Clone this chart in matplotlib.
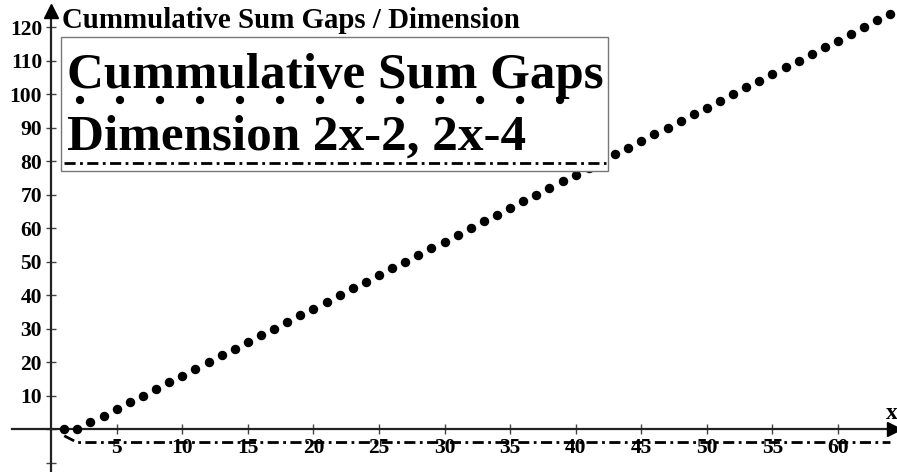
import matplotlib.pyplot as plt
from matplotlib.lines import Line2D
from matplotlib.patches import Rectangle

gap_x = list(range(1, 65))
cum_sum_gaps = [0, 0, 2, 4, 6, 8, 10, 12, 14, 16, 18, 20, 22, 24, 26, 28,
                30, 32, 34, 36, 38, 40, 42, 44, 46, 48, 50, 52, 54, 56, 58, 60,
                62, 64, 66, 68, 70, 72, 74, 76, 78, 80, 82, 84, 86, 88, 90, 92,
                94, 96, 98, 100, 102, 104, 106, 108, 110, 112, 114, 116, 118, 120, 122, 124]
dimension = [-2] + [-4] * 63

x_ticks = [5, 10, 15, 20, 25, 30, 35, 40, 45, 50, 55, 60]
y_ticks = [-10, 0, 10, 20, 30, 40, 50, 60, 70, 80, 90, 100, 110, 120]

plt.rcParams['font.family'] = ['Liberation Serif', 'DejaVu Serif']
plt.rcParams['font.weight'] = 'bold'

W, H = 897, 472
fig = plt.figure(figsize=(W / 100, H / 100), dpi=100)
ax = fig.add_axes([0, 0, 1, 1])
ax.set_xlim(-3.9, 64.5)
ax.set_ylim(-12.8, 128.1)

ax.plot(gap_x, cum_sum_gaps, 'o', color='black', markersize=5.8, zorder=4)
ax.plot(gap_x, dimension, color='black', lw=2, dashes=(4, 1.6, 1, 1.6), zorder=3)

# axes through the origin
for s in ['top', 'right']:
    ax.spines[s].set_visible(False)
ax.spines['left'].set_position(('data', 0))
ax.spines['bottom'].set_position(('data', 0))
ax.spines['bottom'].set_bounds(-3, 64.5)
ax.spines['left'].set_bounds(-12.8, 124.5)
for s in ['left', 'bottom']:
    ax.spines[s].set_color('#222222')
    ax.spines[s].set_linewidth(1.6)
ax.plot(0, 124.9, '^', color='black', markersize=10, clip_on=False, zorder=5)
ax.plot(64.3, 0, '>', color='black', markersize=10, clip_on=False, zorder=5)

ax.set_xticks(x_ticks)
ax.set_yticks(y_ticks)
ax.set_yticklabels(['' if v <= 0 else str(v) for v in y_ticks])
ax.tick_params(direction='inout', length=7, width=1, color='#444444',
               labelsize=15.5, pad=3)
ax.tick_params(axis='x', pad=3)

ax.text(64.1, 1.6, 'x', fontsize=17, fontweight='bold', ha='center', va='bottom')

def px(x, y):
    return (x / W, 1 - y / H)

fig.text(*px(62, 28), 'Cummulative Sum Gaps / Dimension', fontsize=20.8,
         fontweight='bold', ha='left', va='baseline')

# legend box
x0, y0 = px(61, 171)
x1, y1 = px(608, 37)
fig.add_artist(Rectangle((x0, y0), x1 - x0, y1 - y0, transform=fig.transFigure,
                         facecolor='white', edgecolor='#777777', lw=1, zorder=6))
fig.text(*px(67, 88), 'Cummulative Sum Gaps', fontsize=36.8, fontweight='bold',
         ha='left', va='baseline', zorder=7)
fig.text(*px(67, 150), 'Dimension 2x-2, 2x-4', fontsize=36.8, fontweight='bold',
         ha='left', va='baseline', zorder=7)
fig.add_artist(Line2D([px(80, 100)[0], px(565, 100)[0]], [px(80, 100)[1]] * 2,
                      transform=fig.transFigure, color='black', lw=6,
                      dashes=(0.001, 4.8), dash_capstyle='round', zorder=7))
fig.add_artist(Line2D([px(64, 163)[0], px(606, 163)[0]], [px(64, 163)[1]] * 2,
                      transform=fig.transFigure, color='black', lw=2,
                      dashes=(4, 1.6, 1, 1.6), zorder=7))

fig.savefig('out.png', dpi=100)
